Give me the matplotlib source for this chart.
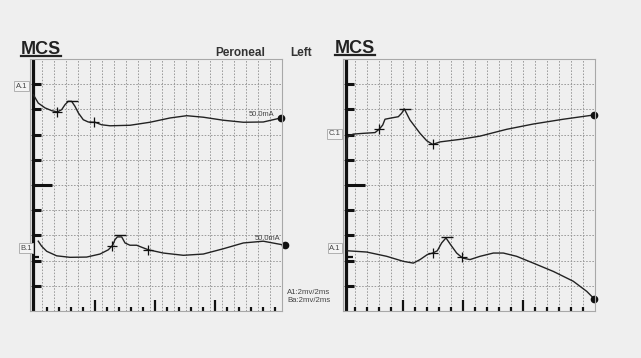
import matplotlib.pyplot as plt
from matplotlib.lines import Line2D

plt.rcParams['font.family'] = ['Liberation Sans', 'DejaVu Sans']

# traces: x in divisions (2 ms/div), y in divisions (2 mV/div), 0 = bottom of panel
la1_x = [0.28, 0.69, 1.25, 1.81, 2.28, 2.64, 2.92, 3.19, 3.47, 3.75, 4.03, 4.44, 4.86, 5.42, 5.97,
         6.67, 8.33, 10.0, 11.67, 13.06, 14.44, 16.11, 17.78, 19.44, 20.9]
la1_y = [8.58, 8.25, 8.06, 7.95, 7.90, 7.99, 8.19, 8.32, 8.32, 8.12, 7.86, 7.59, 7.50, 7.49, 7.39,
         7.35, 7.37, 7.49, 7.66, 7.75, 7.69, 7.57, 7.49, 7.50, 7.66]
la1_marks = [(2.28, 7.90), (5.36, 7.49)]
la1_peak = (3.47, 8.35)

lb1_x = [0.69, 0.97, 1.39, 2.22, 3.33, 4.72, 5.83, 6.53, 6.89, 7.08, 7.28, 7.64, 7.92, 8.33, 8.89,
         9.31, 9.86, 11.11, 12.78, 14.44, 16.11, 17.78, 19.44, 21.25]
lb1_y = [2.77, 2.57, 2.37, 2.19, 2.13, 2.14, 2.26, 2.43, 2.61, 2.83, 2.94, 2.94, 2.70, 2.61, 2.61,
         2.53, 2.43, 2.30, 2.21, 2.26, 2.47, 2.70, 2.77, 2.61]
lb1_marks = [(6.80, 2.58), (9.83, 2.44)]
lb1_peak = (7.50, 3.03)

rc1_x = [0.25, 0.31, 0.44, 0.86, 1.69, 2.67, 3.03, 3.31, 3.5, 3.92, 4.61, 4.89, 5.11, 5.58, 6.42,
         6.97, 7.47, 8.08, 9.75, 11.42, 13.64, 15.86, 18.36, 20.92]
rc1_y = [6.06, 6.79, 6.94, 7.02, 7.05, 7.08, 7.22, 7.38, 7.61, 7.65, 7.71, 7.85, 8.02, 7.58, 7.05,
         6.76, 6.61, 6.71, 6.81, 6.94, 7.21, 7.42, 7.61, 7.78]
rc1_marks = [(3.03, 7.22), (7.47, 6.61)]
rc1_peak = (5.19, 8.02)

ra1_x = [0.36, 1.97, 3.64, 5.03, 5.86, 6.42, 7.03, 7.47, 7.86, 8.22, 8.58, 8.97, 9.47, 9.97, 10.58,
         11.42, 12.53, 13.36, 14.47, 15.86, 17.53, 19.19, 20.31, 20.92]
ra1_y = [2.39, 2.34, 2.17, 1.97, 1.90, 2.04, 2.24, 2.30, 2.39, 2.70, 2.90, 2.63, 2.30, 2.10, 2.04,
         2.17, 2.30, 2.30, 2.17, 1.90, 1.57, 1.18, 0.78, 0.49]
ra1_marks = [(7.47, 2.30), (9.89, 2.13)]
ra1_peak = (8.64, 2.92)

rows = [1, 2, 3, 4, 5, 6, 7, 8, 9]
cols = list(range(1, 21))
left_ticks = [1.45 + k for k in range(20)]
right_ticks = list(range(1, 21))

BG = '#efefef'
W, H = 641, 358


def fx(px):
    return px / W


def fy(py):
    return (H - py) / H


fig = plt.figure(figsize=(6.41, 3.58), dpi=100, facecolor=BG)


def panel(left_px, top_px, bottom_ticks, big_every):
    ax = fig.add_axes([fx(left_px), fy(311), 252 / W, (311 - top_px) / H])
    ax.set_facecolor(BG)
    ax.set_xlim(0, 21)
    ax.set_ylim(0, 10)
    ax.set_xticks([])
    ax.set_yticks([])
    for s in ax.spines.values():
        s.set_color('#a8a8a8')
        s.set_linewidth(0.8)
    ax.vlines(cols, 0, 10, colors='#9a9a9a', linestyles=(0, (1.6, 1.6)), lw=0.7)
    ax.hlines(rows, 0, 21, colors='#9a9a9a', linestyles=(0, (1.6, 1.6)), lw=0.7)
    ax.axvline(0.27, color='#111111', lw=2.3)
    for r in rows:
        ax.hlines(r, 0.27, 1.85 if r == 5 else 0.95, colors='#111111', lw=2.2)
    for i, t in enumerate(bottom_ticks):
        h = 0.42 if i in big_every else 0.17
        ax.vlines(t, 0, h, colors='#111111', lw=1.6)
    return ax


def trace(ax, xs, ys, marks, peak, label, lab_xy, amp=None, amp_xy=None):
    ax.plot(xs, ys, color='#222222', lw=1.0, clip_on=False, solid_joinstyle='round')
    ax.plot(xs[-1], ys[-1], 'o', color='#111111', ms=4.5, clip_on=False)
    for mx, my in marks:
        ax.plot(mx, my, '+', color='#111111', ms=7, mew=0.9)
    ax.hlines(peak[1], peak[0] - 0.5, peak[0] + 0.5, colors='#111111', lw=1.0)
    ax.text(lab_xy[0], lab_xy[1], label, fontsize=5.5, color='#444444', ha='center', va='center',
            clip_on=False, bbox=dict(boxstyle='square,pad=0.2', fc='#f4f4f4', ec='#b0b0b0', lw=0.7))
    if amp:
        ax.text(amp_xy[0], amp_xy[1], amp, fontsize=5.4, color='#444444', ha='right', va='center')


axl = panel(30, 59, left_ticks, [4, 9, 14])
trace(axl, la1_x, la1_y, la1_marks, la1_peak, 'A.1', (-0.73, 8.92), '50.0mA', (20.4, 7.78))
trace(axl, lb1_x, lb1_y, lb1_marks, lb1_peak, 'B.1', (-0.35, 2.5), '50.0mA', (20.83, 2.86))
axl.hlines(2.14, 0.4, 0.75, colors='#111111', lw=1.6)

axr = panel(343, 59, right_ticks, [4, 9, 14])
trace(axr, rc1_x, rc1_y, rc1_marks, rc1_peak, 'C.1', (-0.67, 7.04))
trace(axr, ra1_x, ra1_y, ra1_marks, ra1_peak, 'A.1', (-0.67, 2.49))
axr.hlines(2.14, 0.3, 0.8, colors='#111111', lw=1.6)

# headings
t1 = fig.text(fx(20.7), fy(54), 'MCS', fontsize=13, fontweight='bold', color='#222222', va='baseline')
t2 = fig.text(fx(335), fy(52.7), 'MCS', fontsize=13, fontweight='bold', color='#222222', va='baseline')
fig.text(fx(215.7), fy(56), 'Peroneal', fontsize=8.5, fontweight='bold', color='#333333', va='baseline')
fig.text(fx(290.7), fy(56), 'Left', fontsize=8.5, fontweight='bold', color='#333333', va='baseline')
fig.text(fx(287), fy(292), 'A1:2mv/2ms', fontsize=5.6, color='#444444', va='center')
fig.text(fx(287), fy(301), 'Ba:2mv/2ms', fontsize=5.6, color='#444444', va='center')

fig.canvas.draw()
for t in (t1, t2):
    bb = t.get_window_extent().transformed(fig.transFigure.inverted())
    y0 = t.get_position()[1] - 2.0 / H
    fig.add_artist(Line2D([bb.x0, bb.x1], [y0, y0], color='#222222', lw=1.6))

fig.savefig('out.png', dpi=100, facecolor=BG)
